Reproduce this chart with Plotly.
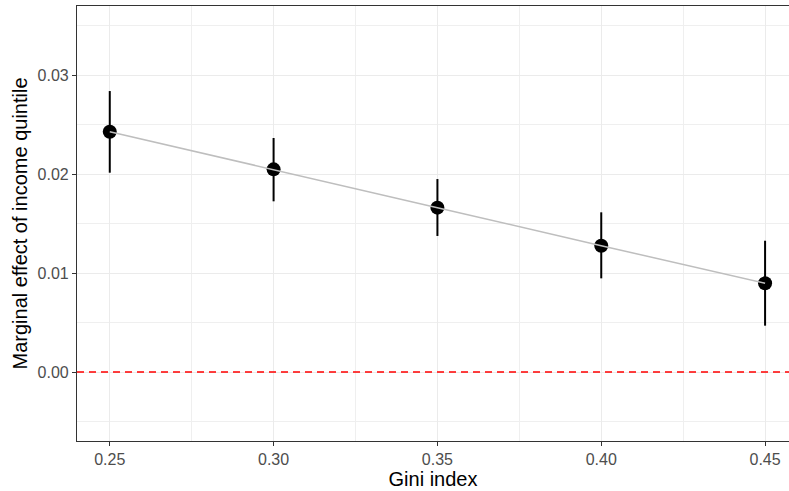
import plotly.graph_objects as go

gini = [0.25, 0.30, 0.35, 0.40, 0.45]
effect = [0.02427, 0.02047, 0.01660, 0.01276, 0.00896]
upper = [0.02838, 0.02364, 0.01949, 0.01613, 0.01326]
lower = [0.02013, 0.01724, 0.01374, 0.00946, 0.00468]

x_ticks = [0.25, 0.30, 0.35, 0.40, 0.45]
x_ticklabels = ["0.25", "0.30", "0.35", "0.40", "0.45"]
y_ticks = [0.00, 0.01, 0.02, 0.03]
y_ticklabels = ["0.00", "0.01", "0.02", "0.03"]

err_plus = [u - e for u, e in zip(upper, effect)]
err_minus = [e - l for e, l in zip(effect, lower)]

fig = go.Figure()

fig.add_trace(go.Scatter(
    x=gini, y=effect, mode="markers",
    marker=dict(color="black", size=14),
    error_y=dict(type="data", array=err_plus, arrayminus=err_minus,
                 color="black", thickness=2, width=0),
    showlegend=False, hoverinfo="skip",
))
fig.add_trace(go.Scatter(
    x=gini, y=effect, mode="lines",
    line=dict(color="#BEBEBE", width=1.5),
    showlegend=False, hoverinfo="skip",
))

fig.add_hline(y=0, line=dict(color="#FF0000", width=1.6, dash="7px,5px"))

font = "Liberation Sans, Arial, sans-serif"
fig.update_layout(
    width=789, height=491,
    margin=dict(l=77, r=0, t=6, b=50),
    plot_bgcolor="white", paper_bgcolor="white",
    font=dict(family=font),
    xaxis=dict(
        range=[0.24, 0.4573], tickvals=x_ticks, ticktext=x_ticklabels,
        showgrid=True, gridcolor="#EBEBEB", gridwidth=1.2,
        minor=dict(tickvals=[0.275, 0.325, 0.375, 0.425], showgrid=True,
                   gridcolor="#EFEFEF", gridwidth=0.8, ticks=""),
        showline=True, linecolor="#333333", linewidth=1.2, mirror=True,
        ticks="outside", ticklen=4, tickcolor="#333333", tickwidth=1.2,
        tickfont=dict(size=16, color="#4D4D4D", family=font),
        title=dict(text="Gini index", font=dict(size=20, color="black", family=font), standoff=2),
        zeroline=False,
    ),
    yaxis=dict(
        range=[-0.00697, 0.03697], tickvals=y_ticks, ticktext=y_ticklabels,
        showgrid=True, gridcolor="#EBEBEB", gridwidth=1.2,
        minor=dict(tickvals=[-0.005, 0.005, 0.015, 0.025, 0.035], showgrid=True,
                   gridcolor="#EFEFEF", gridwidth=0.8, ticks=""),
        showline=True, linecolor="#333333", linewidth=1.2,
        ticks="outside", ticklen=4, tickcolor="#333333", tickwidth=1.2,
        tickfont=dict(size=16, color="#4D4D4D", family=font),
        title=dict(text="Marginal effect of income quintile", font=dict(size=20, color="black", family=font), standoff=4),
        zeroline=False,
    ),
)

fig.write_html("out.html", config={"displayModeBar": False},
               post_script="document.body.style.margin='0';document.body.style.overflow='hidden';")
